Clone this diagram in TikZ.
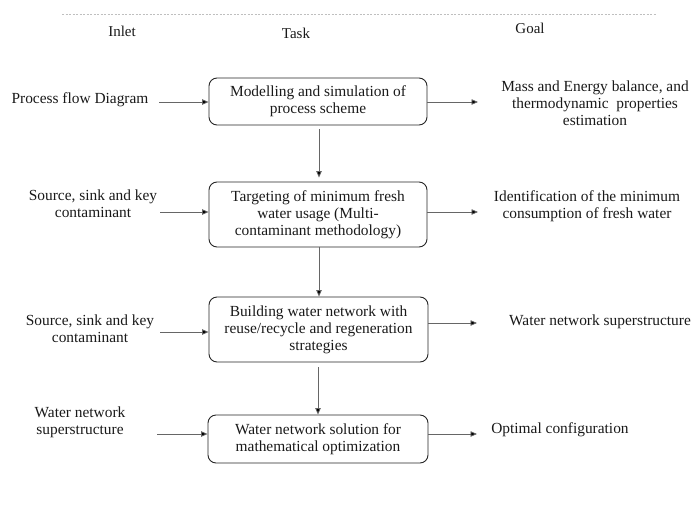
\documentclass[tikz,border=0pt]{standalone}
\usepackage{fontspec}
\setmainfont{Liberation Serif}
\usetikzlibrary{arrows.meta}
\begin{document}
\begin{tikzpicture}[x=1pt,y=-1pt,
  every node/.style={font=\fontsize{15.4}{17}\selectfont, inner sep=0pt, align=center, text=black!90},
  taskbox/.style={draw=black!85, line width=0.9pt, rounded corners=8pt},
  flow/.style={draw=black!60, line width=0.8pt, -{Triangle[length=6.5pt,width=5.5pt,fill=black]}},
  head/.style={font=\fontsize{15}{17}\selectfont}]
\useasboundingbox (0,0) rectangle (697,504);
\draw[black!25, dashed, dash pattern=on 2pt off 1.5pt, line width=0.4pt] (62,14) -- (656,14);
\node[head] (hin) at (122,31) {Inlet};
\node[head] (hta) at (296,33) {Task};
\node[head] (hgo) at (530,28) {Goal};
% task boxes
\node[taskbox, minimum width=218pt, minimum height=47pt] (b1) at (318,101.5) {Modelling and simulation of\\process scheme};
\node[taskbox, minimum width=218pt, minimum height=65pt] (b2) at (318,214.5) {Targeting of minimum fresh\\water usage (Multi-\\contaminant methodology)};
\node[taskbox, minimum width=219pt, minimum height=65pt] (b3) at (318.5,329.5) {Building water network with\\reuse/recycle and regeneration\\strategies};
\node[taskbox, minimum width=220pt, minimum height=48pt] (b4) at (318,439) {Water network solution for\\mathematical optimization};
% inlets
\node (i1) at (80,100) {Process flow Diagram};
\node (i2) at (93,204) {Source, sink and key\\contaminant};
\node (i3) at (90,329) {Source, sink and key\\contaminant};
\node (i4) at (80,422) {Water network\\superstructure};
% goals
\node (g1) at (595,103) {Mass and Energy balance, and\\thermodynamic\ \ properties\\estimation};
\node (g2) at (587,206) {Identification of the minimum\\consumption of fresh water};
\node (g3) at (600,322) {Water network superstructure};
\node (g4) at (560,430) {Optimal configuration};
% arrow endpoints
\coordinate (a1) at (159,102);
\coordinate (a2) at (160,212);
\coordinate (a3) at (160,332);
\coordinate (a4) at (157,434);
\coordinate (o1) at (478,102);
\coordinate (o2) at (478,212);
\coordinate (o3) at (477,323);
\coordinate (o4) at (477,434);
\draw[flow] (a1) -- (a1 -| b1.west);
\draw[flow] (a2) -- (a2 -| b2.west);
\draw[flow] (a3) -- (a3 -| b3.west);
\draw[flow] (a4) -- (a4 -| b4.west);
\draw[flow] (o1 -| b1.east) -- (o1);
\draw[flow] (o2 -| b2.east) -- (o2);
\draw[flow] (o3 -| b3.east) -- (o3);
\draw[flow] (o4 -| b4.east) -- (o4);
% vertical arrows
\draw[flow, shorten <=4pt, shorten >=4pt] ([xshift=1pt]b1.south) -- ([xshift=1pt]b2.north);
\draw[flow] ([xshift=1pt]b2.south) -- ([xshift=0.5pt]b3.north);
\draw[flow, shorten <=5pt] ([xshift=-0.5pt]b3.south) -- (b4.north);
\end{tikzpicture}
\end{document}
